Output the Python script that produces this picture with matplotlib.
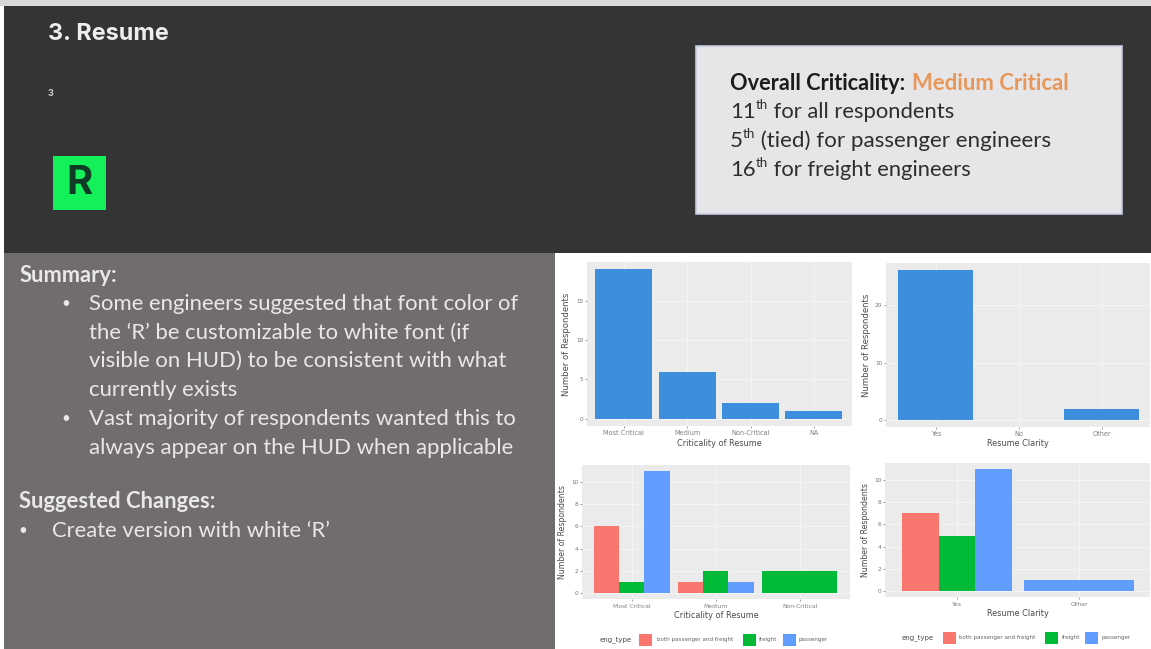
import matplotlib
matplotlib.use("Agg")
import matplotlib.pyplot as plt
from matplotlib.patches import Rectangle

W, H = 1151, 649

# ---- data ----
crit_cats = ["Most Critical", "Medium", "Non-Critical", "NA"]
crit_counts = [19, 6, 2, 1]
clarity_cats = ["Yes", "No", "Other"]
clarity_counts = [26, 0, 2]

crit_type_cats = ["Most Critical", "Medium", "Non-Critical"]
crit_both = [6, 1, 0]
crit_freight = [1, 2, 2]
crit_passenger = [11, 1, 0]

clar_type_cats = ["Yes", "Other"]
clar_both = [7, 0]
clar_freight = [5, 0]
clar_passenger = [11, 1]

eng_types = ["both passenger and freight", "freight", "passenger"]
BLUE = "#3d8fdd"
PAL = ["#f8766d", "#00ba38", "#619cff"]
TXT = "#4a4a4a"

fig = plt.figure(figsize=(W / 100, H / 100), dpi=100, facecolor="white")
bg = fig.add_axes([0, 0, 1, 1])
bg.set_xlim(0, W)
bg.set_ylim(H, 0)
bg.axis("off")

bg.add_patch(Rectangle((0, 0), W, 6, color="#d8d8d8", lw=0))
bg.add_patch(Rectangle((4, 6), W - 4, 247, color="#343434", lw=0))
bg.add_patch(Rectangle((4, 253), 551, H - 253, color="#716c6d", lw=0))
bg.add_patch(Rectangle((696, 46), 426, 168, facecolor="#e6e6e8", edgecolor="#c2c8e0", lw=1.2))
bg.add_patch(Rectangle((53, 156), 53, 54, color="#14f05a", lw=0))


def label(x, y, s, px, color="white", weight="normal", family="Lato", ha="left", rot=0):
    return bg.text(x, y, s, fontsize=px * 0.72, color=color, fontweight=weight,
                   family=family, ha=ha, va="center", rotation=rot)


label(48, 34, "3. Resume", 23.4, color="#eeeeee", weight="bold", family="Inter")
label(48, 93, "3", 9, color="#cfcfcf", weight="bold", family="Inter")
label(79.5, 183, "R", 40, color="#0f3a25", weight="bold", family="Inter", ha="center")


def runs(x, y, parts, px):
    """Lay out pieces of text one after another on a line."""
    r = fig.canvas.get_renderer()
    for s, color, weight, sup in parts:
        size = px * 0.6 if sup else px
        t = label(x, y - (px * 0.3 if sup else 0), s, size, color=color, weight=weight)
        x += t.get_window_extent(r).width + (px * 0.24 if s.endswith(" ") else 0)


INK = "#2e2e2e"
runs(730, 84, [("Overall Criticality:", "#1c1c1c", "bold", False)], 21.8)
runs(912, 84, [("Medium Critical", "#e8975a", "bold", False)], 22.2)
runs(730, 112, [("11", INK, "normal", False), ("th", INK, "normal", True),
                (" for all respondents", INK, "normal", False)], 22)
runs(730, 141, [("5", INK, "normal", False), ("th", INK, "normal", True),
                (" (tied) for passenger engineers", INK, "normal", False)], 22.4)
runs(730, 170, [("16", INK, "normal", False), ("th", INK, "normal", True),
                (" for freight engineers", INK, "normal", False)], 22)

PALE = "#e8e8e8"
label(19.5, 276, "Summary:", 22, color=PALE, weight="bold")
for x, y in [(66, 304), (66, 419), (23, 531)]:
    label(x, y, "•", 15, color=PALE, ha="center")
lines = [(304, "Some engineers suggested that font color of"),
         (333, "the ‘R’ be customizable to white font (if"),
         (361, "visible on HUD) to be consistent with what"),
         (390, "currently exists"),
         (419, "Vast majority of respondents wanted this to"),
         (448, "always appear on the HUD when applicable")]
for y, s in lines:
    label(89, y, s, 22.2, color=PALE)
label(19.5, 502, "Suggested Changes:", 22, color=PALE, weight="bold")
label(52, 531, "Create version with white ‘R’", 22, color=PALE)


def panel(box, xlim, ylim, yticks, cats, xlabel, ylab_x, xlab_y, tick_y, ylab_size, tick_size):
    x0, y0, x1, y1 = box
    ax = fig.add_axes([x0 / W, 1 - y1 / H, (x1 - x0) / W, (y1 - y0) / H])
    ax.set_facecolor("#ebebeb")
    for s in ax.spines.values():
        s.set_visible(False)
    ax.set_xlim(*xlim)
    ax.set_ylim(*ylim)
    ax.set_axisbelow(True)
    ax.grid(True, color="#f6f6f6", lw=0.6)
    ax.set_yticks(yticks)
    ax.set_xticks(range(len(cats)))
    ax.set_xticklabels([])
    ax.tick_params(length=1.5, width=0.5, color="#777777", labelsize=4.2, labelcolor="#777777", pad=1)
    for c, s in enumerate(cats):
        px = x0 + (c - xlim[0]) / (xlim[1] - xlim[0]) * (x1 - x0)
        bg.text(px, tick_y, s, fontsize=tick_size, color="#808080", ha="center", va="center")
    bg.text((x0 + x1) / 2, xlab_y, xlabel, fontsize=5.9, color=TXT, ha="center", va="center")
    bg.text(ylab_x, (y0 + y1) / 2, "Number of Respondents", fontsize=ylab_size, color=TXT,
            rotation=90, ha="center", va="center")
    return ax


def legend(items_x, txt_x, y, name_x):
    bg.text(name_x, y, "eng_type", fontsize=5.0, color=TXT, va="center")
    for (sx, tx, c, s) in zip(items_x, txt_x, PAL, eng_types):
        bg.add_patch(Rectangle((sx, y - 6), 13, 12, color=c, lw=0))
        bg.text(tx, y, s, fontsize=4.1, color="#666666", va="center")


# top-left
ax = panel((587, 262, 852, 426), (-0.58, 3.6), (-0.9, 19.9), [0, 5, 10, 15], crit_cats,
           "Criticality of Resume", 567, 443, 433, 6.1, 4.7)
ax.bar(range(len(crit_cats)), crit_counts, width=0.9, color=BLUE)

# top-right
ax = panel((886, 263, 1150, 427), (-0.6, 2.58), (-1.2, 27.3), [0, 10, 20], clarity_cats,
           "Resume Clarity", 867, 444, 434, 6.1, 4.7)
ax.bar(range(len(clarity_cats)), clarity_counts, width=0.9, color=BLUE)

# bottom-left (grouped; a category with a single type takes the full width)
ax = panel((582, 465, 850, 599), (-0.595, 2.6), (-0.5, 11.5), [0, 2, 4, 6, 8, 10], crit_type_cats,
           "Criticality of Resume", 563, 616, 607, 5.6, 4.3)
for c in range(len(crit_type_cats)):
    vals = [crit_both[c], crit_freight[c], crit_passenger[c]]
    present = [i for i, v in enumerate(vals) if v > 0]
    w = 0.9 / len(present)
    for k, i in enumerate(present):
        ax.bar(c - 0.45 + w * (k + 0.5), vals[i], width=w, color=PAL[i])
legend((639, 743, 783), (657, 759, 799), 640, 600)

# bottom-right
ax = panel((885, 463, 1150, 597), (-0.59, 1.58), (-0.5, 11.5), [0, 2, 4, 6, 8, 10], clar_type_cats,
           "Resume Clarity", 866, 614, 605, 5.6, 4.4)
for c in range(len(clar_type_cats)):
    vals = [clar_both[c], clar_freight[c], clar_passenger[c]]
    present = [i for i, v in enumerate(vals) if v > 0]
    w = 0.9 / len(present)
    for k, i in enumerate(present):
        ax.bar(c - 0.45 + w * (k + 0.5), vals[i], width=w, color=PAL[i])
legend((943, 1045, 1085), (959, 1062, 1102), 638, 902)

fig.savefig("out.png", dpi=100, facecolor="white")
